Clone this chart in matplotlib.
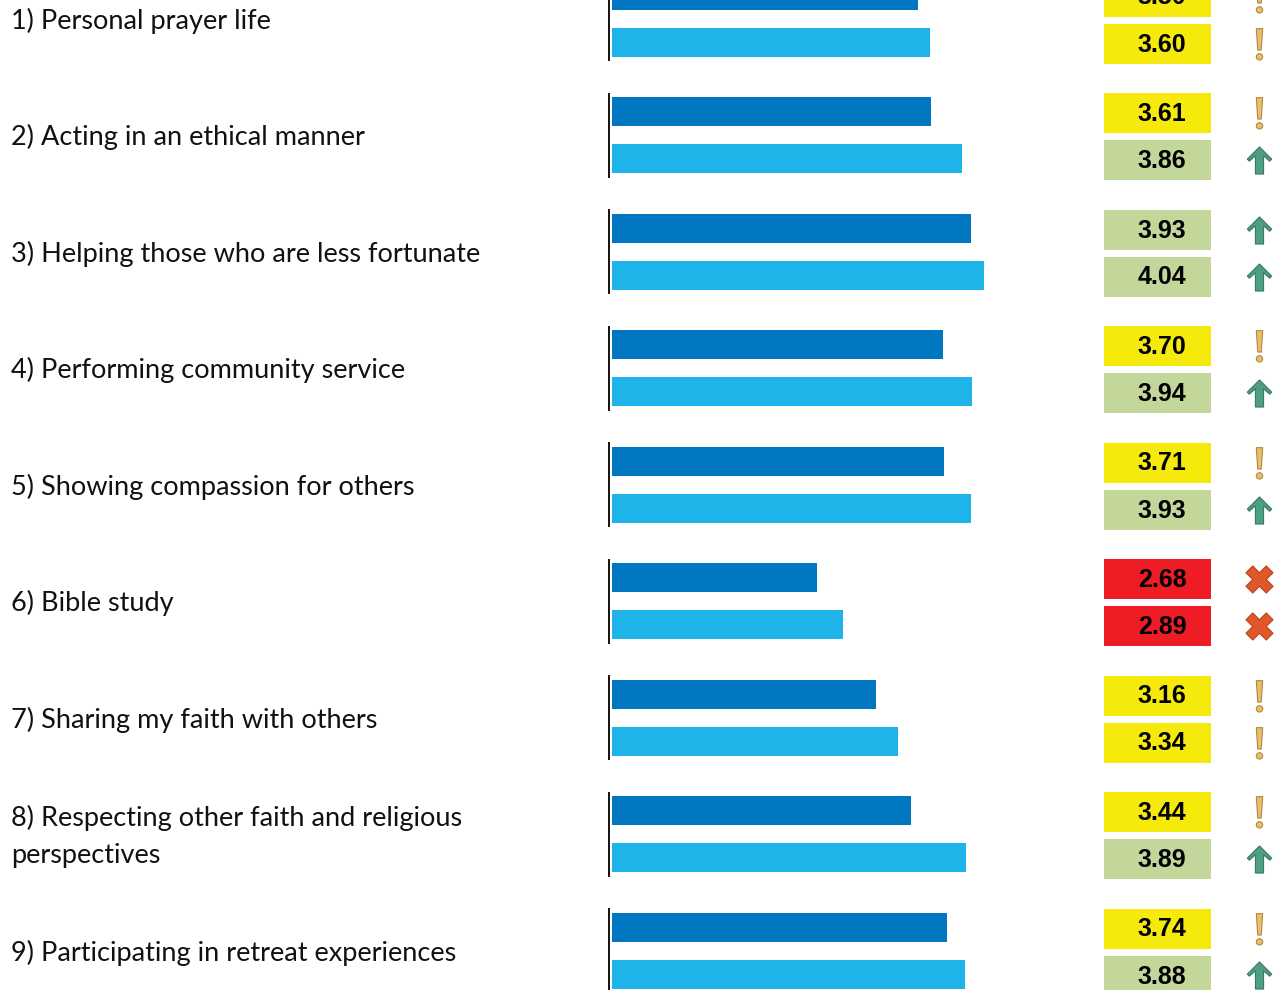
import matplotlib
matplotlib.use("Agg")
import matplotlib.pyplot as plt
from matplotlib.path import Path
from matplotlib.patches import Rectangle
import numpy as np

labels = [
    "1) Personal prayer life",
    "2) Acting in an ethical manner",
    "3) Helping those who are less fortunate",
    "4) Performing community service",
    "5) Showing compassion for others",
    "6) Bible study",
    "7) Sharing my faith with others",
    "8) Respecting other faith and religious\nperspectives",
    "9) Participating in retreat experiences",
]
series_a = [3.50, 3.61, 3.93, 3.70, 3.71, 2.68, 3.16, 3.44, 3.74]
series_b = [3.60, 3.86, 4.04, 3.94, 3.93, 2.89, 3.34, 3.89, 3.88]
status_a = ["warn", "warn", "up", "warn", "warn", "bad", "warn", "warn", "warn"]
status_b = ["warn", "up", "up", "up", "up", "bad", "warn", "up", "up"]

BAR_START = 1.0
DARK = "#0077C0"
LIGHT = "#1FB4E9"
BOX_COL = {"warn": "#F5EA0C", "up": "#C4D79B", "bad": "#EE1C25"}

W, H = 1281, 990
fig = plt.figure(figsize=(W / 100, H / 100), dpi=100)
ax = fig.add_axes([0, 0, 1, 1])
ax.axis("off")

PXU = 122.6      # pixels per value unit
X0PX = 611.5     # pixel where value BAR_START lies
ROW0 = 18.5      # pixel center of first row
PITCH = 116.5

def xd(px):
    return BAR_START + (px - X0PX) / PXU

def yd(px):
    return (px - ROW0) / PITCH

ax.set_xlim(xd(0), xd(W))
ax.set_ylim(yd(H), yd(0))

n = len(labels)
rows = np.arange(n)
off = 23.5 / PITCH
bh = 29 / PITCH

ax.barh(rows - off, np.array(series_a) - BAR_START, left=BAR_START, height=bh, color=DARK)
ax.barh(rows + off, np.array(series_b) - BAR_START, left=BAR_START, height=bh, color=LIGHT)

# axis line segments per row
ax.vlines([xd(609)] * n, rows - 42.5 / PITCH, rows + 42.5 / PITCH, color="black", lw=1.3)

# labels
for i, lab in enumerate(labels):
    ax.text(xd(11), i + 2.0 / PITCH, lab, ha="left", va="center", fontsize=19.5,
            family="Lato", color="#111111", linespacing=1.6)

# icon markers
excl_verts = [(-0.2, 1.0), (0.2, 1.0), (0.11, -0.35), (-0.11, -0.35), (-0.2, 1.0)]
excl_codes = [Path.MOVETO, Path.LINETO, Path.LINETO, Path.LINETO, Path.CLOSEPOLY]
circ = Path.circle((0, -0.78), 0.2)
excl_path = Path(excl_verts + list(circ.vertices), excl_codes + list(circ.codes))
arrow_path = Path([(0, 1.0), (0.9, 0.1), (0.75, -0.05), (0.3, 0.35), (0.3, -1.0),
                   (-0.3, -1.0), (-0.3, 0.35), (-0.75, -0.05), (-0.9, 0.1), (0, 1.0)],
                  [Path.MOVETO] + [Path.LINETO] * 8 + [Path.CLOSEPOLY])

ICON = {
    "warn": dict(marker=excl_path, s=520, c="#EBBE6E", edgecolors="#B08840", linewidths=0.8),
    "up": dict(marker=arrow_path, s=380, c="#4E9E82", edgecolors="#3A7A63", linewidths=0.8),
    "bad": dict(marker="X", s=380, c="#E0572A", edgecolors="#B94420", linewidths=0.8),
}

def draw_box(yc, val, st):
    bw = (1211 - 1104) / PXU
    bhh = 40 / PITCH
    ax.add_patch(Rectangle((xd(1104), yc - bhh / 2), bw, bhh, facecolor=BOX_COL[st],
                           edgecolor="none"))
    ax.text(xd(1162), yc + 1.0 / PITCH, f"{val:.2f}", ha="center", va="center", fontsize=18,
            fontweight="bold", family="Liberation Sans", color="black")
    ax.scatter([xd(1259)], [yc], zorder=5, **ICON[st])

for i in range(n):
    draw_box(i - off + 1.5 / PITCH, series_a[i], status_a[i])
    draw_box(i + off + 1.5 / PITCH, series_b[i], status_b[i])

fig.savefig("out.png", dpi=100)
